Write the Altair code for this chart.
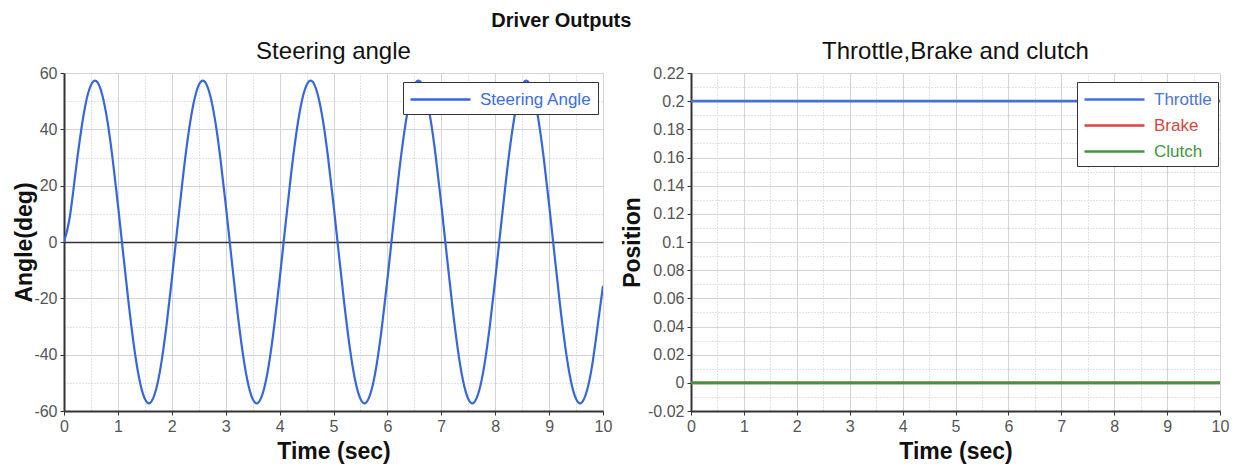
import altair as alt
import pandas as pd

FONT = "Liberation Sans"
TICK_FONT = "Liberation Sans"

# ---- data ----
time_s = [i / 10 for i in range(101)]
steering_deg = [
    0.0,
    8.0, 22.5, 37.2, 48.9, 55.7, 57.1, 52.9, 43.6, 29.9, 13.4,
    -4.5, -21.9, -37.2, -48.9, -55.7, -57.1, -52.9, -43.6, -29.9, -13.4,
    4.5, 21.9, 37.2, 48.9, 55.7, 57.1, 52.9, 43.6, 29.9, 13.4,
    -4.5, -21.9, -37.2, -48.9, -55.7, -57.1, -52.9, -43.6, -29.9, -13.4,
    4.5, 21.9, 37.2, 48.9, 55.7, 57.1, 52.9, 43.6, 29.9, 13.4,
    -4.5, -21.9, -37.2, -48.9, -55.7, -57.1, -52.9, -43.6, -29.9, -13.4,
    4.5, 21.9, 37.2, 48.9, 55.7, 57.1, 52.9, 43.6, 29.9, 13.4,
    -4.5, -21.9, -37.2, -48.9, -55.7, -57.1, -52.9, -43.6, -29.9, -13.4,
    4.5, 21.9, 37.2, 48.9, 55.7, 57.1, 52.9, 43.6, 29.9, 13.4,
    -4.5, -21.9, -37.2, -48.9, -55.7, -57.1, -52.9, -43.6, -29.9, -15.5,
]
time_ctrl = [0, 10]
throttle = [0.2, 0.2]
brake = [0.0, 0.0]
clutch = [0.0, 0.0]

series_left = ["Steering Angle"]
series_right = ["Throttle", "Brake", "Clutch"]
colors_left = ["#3566dc"]
colors_right = ["#4570d6", "#d8463b", "#3f943f"]

x_ticks = [0, 0.5, 1, 1.5, 2, 2.5, 3, 3.5, 4, 4.5, 5, 5.5, 6, 6.5, 7, 7.5, 8, 8.5, 9, 9.5, 10]
yl_ticks = [-60, -50, -40, -30, -20, -10, 0, 10, 20, 30, 40, 50, 60]
yr_ticks = [-0.02, -0.01, 0, 0.01, 0.02, 0.03, 0.04, 0.05, 0.06, 0.07, 0.08, 0.09, 0.1,
            0.11, 0.12, 0.13, 0.14, 0.15, 0.16, 0.17, 0.18, 0.19, 0.2, 0.21, 0.22]

left_df = pd.DataFrame({"Time": time_s, "Angle": steering_deg, "Series": series_left[0]})
right_df = pd.concat([
    pd.DataFrame({"Time": time_ctrl, "Position": throttle, "Series": "Throttle", "o": 0}),
    pd.DataFrame({"Time": time_ctrl, "Position": brake, "Series": "Brake", "o": 1}),
    pd.DataFrame({"Time": time_ctrl, "Position": clutch, "Series": "Clutch", "o": 2}),
])

MAJOR_GRID = "#d4d4d4"
MINOR_GRID = "#c4c4c4"


def cond(test, a, b):
    return {"condition": {"test": test, "value": a}, "value": b}


def make_axis(title, values, minor_test, label_expr, title_pad, zero_dark=False):
    grid_color = cond(minor_test, MINOR_GRID, MAJOR_GRID)
    if zero_dark:
        grid_color = {"condition": [{"test": "datum.value == 0", "value": "#333333"},
                                    {"test": minor_test, "value": MINOR_GRID}],
                      "value": MAJOR_GRID}
    return alt.Axis(
        title=title, values=values, labelExpr=label_expr, labelFlush=False,
        grid=True, gridColor=grid_color,
        gridDash=cond(minor_test, [1, 2], []),
        gridWidth=cond("datum.value == 0", 1.6 if zero_dark else 1, 1),
        tickOpacity=cond(minor_test, 0, 1),
        tickColor="#333", tickSize=4, tickWidth=1,
        domainColor="#333", domainWidth=2,
        labelColor="#555", labelFontSize=16, labelFont=TICK_FONT, labelPadding=3,
        titleFont=FONT, titleFontSize=23, titleFontWeight="bold", titleColor="#111",
        titlePadding=title_pad,
    )


x_axis = make_axis("Time (sec)", x_ticks, "datum.value % 1 != 0",
                   "datum.value % 1 != 0 ? '' : '' + datum.value", 6)
yl_axis = make_axis("Angle(deg)", yl_ticks, "datum.value % 20 != 0",
                    "datum.value % 20 != 0 ? '' : (datum.value < 0 ? '-' : '') + abs(datum.value)",
                    -3, zero_dark=True)
yr_axis = make_axis("Position", yr_ticks, "abs(round(datum.value * 100)) % 2 == 1",
                    "abs(round(datum.value * 100)) % 2 == 1 ? '' : (datum.value < 0 ? '-' : '') + format(abs(datum.value), '.2~f')",
                    3)

legend_common = dict(
    title=None, orient="none", fillColor="white", strokeColor="#333",
    padding=6, cornerRadius=0, symbolType="M-1,0H5", symbolSize=400,
    symbolStrokeWidth=2.5, symbolFillColor="transparent",
    labelFont=FONT, labelFontSize=17, rowPadding=6, labelOffset=48,
)

sub_title = dict(fontSize=24, fontWeight="normal", font=FONT, color="#111", offset=1)

left = alt.Chart(left_df).mark_line(strokeWidth=2.2, interpolate="natural", clip=True).encode(
    x=alt.X("Time:Q", scale=alt.Scale(domain=[0, 10], nice=False, zero=False), axis=x_axis),
    y=alt.Y("Angle:Q", scale=alt.Scale(domain=[-60, 60], nice=False), axis=yl_axis),
    color=alt.Color("Series:N", scale=alt.Scale(domain=series_left, range=colors_left),
                    legend=alt.Legend(legendX=339, legendY=9, labelColor="#3d6de0", **legend_common)),
).properties(width=539, height=338, title=alt.TitleParams("Steering angle", **sub_title))

label_expr = ("datum.value == 'Throttle' ? '#4a74da' : datum.value == 'Brake' ? '#d8463b' : '#3f943f'")
right = alt.Chart(right_df).mark_line(strokeWidth=2.8, clip=True).encode(
    x=alt.X("Time:Q", scale=alt.Scale(domain=[0, 10], nice=False, zero=False), axis=x_axis),
    y=alt.Y("Position:Q", scale=alt.Scale(domain=[-0.02, 0.22], nice=False, zero=False), axis=yr_axis),
    color=alt.Color("Series:N", scale=alt.Scale(domain=series_right, range=colors_right),
                    legend=alt.Legend(legendX=386, legendY=9, labelColor={"expr": label_expr}, **legend_common)),
    order=alt.Order("o:Q"),
).properties(width=529, height=338, title=alt.TitleParams("Throttle,Brake and clutch", **sub_title))

chart = alt.hconcat(left, right, spacing=8).resolve_scale(color="independent").properties(
    title=alt.TitleParams("Driver Outputs", fontSize=20, fontWeight="bold", font=FONT,
                          color="#111", anchor="middle", dx=-60, offset=9),
    padding={"left": 5, "top": 2, "right": 2, "bottom": 2},
).configure_view(stroke="#666", strokeWidth=2).configure(background="white")

chart.save("out.html", embed_options={"renderer": "svg", "actions": False})
